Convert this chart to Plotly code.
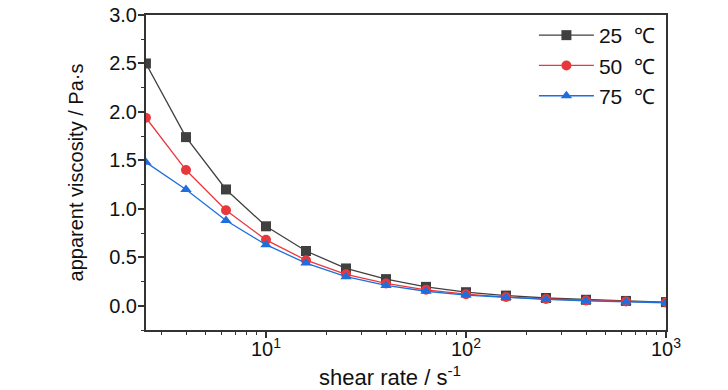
import plotly.graph_objects as go

shear_rate = [2.51, 3.98, 6.31, 10.0, 15.85, 25.12, 39.81, 63.1, 100.0, 158.5, 251.2, 398.1, 631.0, 1000.0]
visc_25 = [2.50, 1.74, 1.20, 0.82, 0.565, 0.385, 0.275, 0.195, 0.14, 0.105, 0.08, 0.062, 0.05, 0.038]
visc_50 = [1.94, 1.40, 0.985, 0.68, 0.47, 0.325, 0.23, 0.165, 0.12, 0.09, 0.07, 0.055, 0.045, 0.035]
visc_75 = [1.48, 1.20, 0.88, 0.63, 0.44, 0.30, 0.21, 0.15, 0.11, 0.085, 0.065, 0.05, 0.04, 0.03]
names = ["25  ℃", "50  ℃", "75  ℃"]
colors = ["#404040", "#e8383d", "#1e6fdc"]
symbols = ["square", "circle", "triangle-up"]

x_major = [10, 100, 1000]
x_major_text = ["10<sup>1</sup>", "10<sup>2</sup>", "10<sup>3</sup>"]
x_minor = [3, 4, 5, 6, 7, 8, 9, 20, 30, 40, 50, 60, 70, 80, 90, 200, 300, 400, 500, 600, 700, 800, 900]
y_major = [0.0, 0.5, 1.0, 1.5, 2.0, 2.5, 3.0]
y_minor = [-0.25, 0.25, 0.75, 1.25, 1.75, 2.25, 2.75]
x_title = "shear rate / s<sup>-1</sup>"
y_title = "apparent viscosity / Pa·s"

font_family = "Liberation Sans Narrow, Arial Narrow, Liberation Sans, Arial"

fig = go.Figure()
for ys, nm, col, sym in zip([visc_25, visc_50, visc_75], names, colors, symbols):
    fig.add_trace(go.Scatter(
        x=shear_rate, y=ys, name=nm, mode="lines+markers",
        line=dict(color=col, width=1.3),
        marker=dict(symbol=sym, size=10, color=col),
    ))

axis_common = dict(
    showline=True, linecolor="#333333", linewidth=2, mirror=True,
    showgrid=False, zeroline=False, ticks="outside", tickcolor="#333333",
    tickwidth=1.5, ticklen=6, automargin=False, ticklabeloverflow="allow",
    tickfont=dict(family=font_family, size=20, color="#111111"),
)

fig.update_xaxes(
    type="log", range=[0.4, 3.0],
    tickmode="array", tickvals=x_major, ticktext=x_major_text,
    minor=dict(tickmode="array", tickvals=x_minor, ticks="outside", ticklen=3, tickcolor="#333333", tickwidth=1),
    ticklabelstandoff=-6,
    **axis_common,
)
fig.update_yaxes(
    range=[-0.25, 3.0],
    tickmode="array", tickvals=y_major, ticktext=[f"{v:.1f}" for v in y_major],
    minor=dict(tickmode="array", tickvals=y_minor, ticks="outside", ticklen=3, tickcolor="#333333", tickwidth=1),
    ticklabelstandoff=-3,
    title=dict(text=y_title, font=dict(family=font_family, size=20, color="#111111"), standoff=20),
    **axis_common,
)

fig.add_annotation(
    text=x_title, xref="paper", yref="paper", x=0.469, y=0,
    xanchor="center", yanchor="middle", yshift=-46, showarrow=False,
    font=dict(family=font_family, size=22, color="#111111"),
)

fig.update_layout(
    width=728, height=390,
    margin=dict(l=146, r=62, t=15, b=60),
    paper_bgcolor="white", plot_bgcolor="white",
    legend=dict(x=0.746, y=1.0, xanchor="left", yanchor="top",
                font=dict(family=font_family, size=21, color="#111111"),
                bgcolor="rgba(0,0,0,0)", tracegroupgap=0, itemwidth=55),
    showlegend=True,
)

fig.write_html(
    "out.html",
    config={"displayModeBar": False},
    post_script="document.body.style.margin='0';document.body.style.overflow='hidden';",
)
